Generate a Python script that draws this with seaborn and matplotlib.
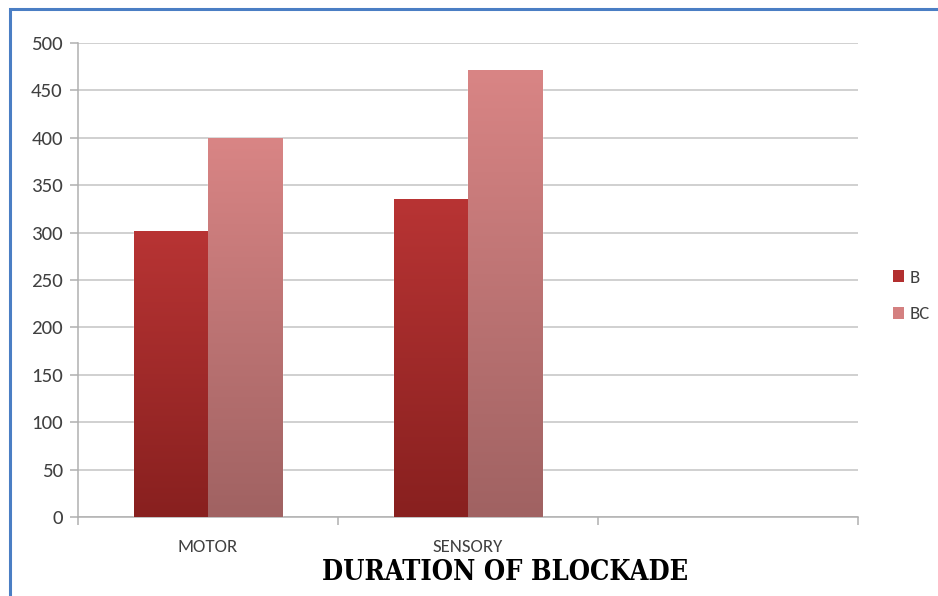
import numpy as np
import pandas as pd
import matplotlib
matplotlib.use("Agg")
import matplotlib.pyplot as plt
import seaborn as sns
from matplotlib.colors import LinearSegmentedColormap
from matplotlib.patches import Rectangle, Patch

categories = ["MOTOR", "SENSORY", ""]
series = ["B", "BC"]
b_values = [302, 335]
bc_values = [400, 472]
y_ticks = [0, 50, 100, 150, 200, 250, 300, 350, 400, 450, 500]
title = "DURATION OF BLOCKADE"

rows = []
for c, v in zip(categories[:2], b_values):
    rows.append({"cat": c, "series": "B", "value": v})
for c, v in zip(categories[:2], bc_values):
    rows.append({"cat": c, "series": "BC", "value": v})
df = pd.DataFrame(rows)

sns.set_style("white")
label_font = ["Carlito", "Liberation Sans Narrow", "Open Sans", "DejaVu Sans"]
plt.rcParams["font.family"] = label_font

fig = plt.figure(figsize=(9.38, 5.96), dpi=100)
ax = fig.add_axes([78/938, 1-517/596, 780/938, 474/596])

top_cols = {"B": "#b83434", "BC": "#d98585"}
bot_cols = {"B": "#88201f", "BC": "#a06262"}

sns.barplot(data=df, x="cat", y="value", hue="series", order=categories,
            hue_order=series, palette=top_cols, width=0.57, ax=ax,
            legend=False, saturation=1, zorder=3)

ax.set_ylim(0, 500)
ax.set_xlim(-0.5, 2.5)

# gradient fill
for container, s in zip(ax.containers, series):
    cmap = LinearSegmentedColormap.from_list(s, [bot_cols[s], top_cols[s]])
    for p in container:
        x0, y0 = p.get_x(), p.get_y()
        w, h = p.get_width(), p.get_height()
        if not np.isfinite(h) or h == 0:
            continue
        grad = np.linspace(0, 1, 256).reshape(-1, 1)
        im = ax.imshow(grad, cmap=cmap, origin="lower", aspect="auto",
                       extent=[x0, x0 + w, y0, y0 + h], zorder=4)
        im.set_clip_path(p)
ax.set_xlim(-0.5, 2.5)
ax.set_ylim(0, 500)

ax.set_yticks(y_ticks)
ax.yaxis.grid(True, color="#c4c4c4", linewidth=1.1, zorder=0)
ax.set_axisbelow(True)
for side in ["top", "right"]:
    ax.spines[side].set_visible(False)
ax.spines["left"].set_color("#b0b0b0")
ax.spines["bottom"].set_color("#b0b0b0")
ax.spines["left"].set_linewidth(1.1)
ax.spines["bottom"].set_linewidth(1.1)

ax.set_xticks([0, 1, 2])
ax.set_xticklabels(categories)
ax.set_xticks([-0.5, 0.5, 1.5, 2.5], minor=True)
ax.tick_params(axis="x", which="major", bottom=False, length=0, pad=16,
               labelsize=13.5, labelcolor="#404040")
ax.tick_params(axis="x", which="minor", bottom=True, length=6, color="#b0b0b0",
               direction="out", width=1.1)
ax.tick_params(axis="y", left=True, length=6, color="#b0b0b0", width=1.1, direction="out",
               labelsize=15, labelcolor="#404040", pad=5)
ax.set_xlabel("")
ax.set_ylabel("")

fig.text(505/938, 1-572/596, title, ha="center", va="center",
         fontsize=19.5, fontweight="bold", color="black",
         family=["DejaVu Serif"], fontstretch="condensed")

handles = [Patch(facecolor="#b22f2f", edgecolor="none"),
           Patch(facecolor="#d48080", edgecolor="none")]
fig.legend(handles, series, loc="center left", bbox_to_anchor=(885/938, 1-296/596),
           frameon=False, fontsize=13.5, labelcolor="#404040",
           handlelength=0.6, handleheight=0.6, handletextpad=0.3,
           labelspacing=1.1, borderpad=0.2, borderaxespad=0.2)

fig.patches.append(Rectangle((10/938, -0.05), 1.0, 1 - 9/596 + 0.05,
                             transform=fig.transFigure, fill=False,
                             edgecolor="#4a7ec4", linewidth=2.2))

fig.savefig("out.png", dpi=100)
